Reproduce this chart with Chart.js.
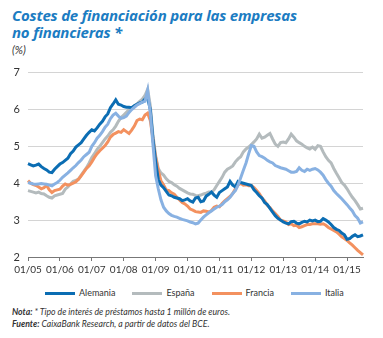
<!DOCTYPE html>
<html lang="es">
<head>
<meta charset="utf-8">
<script src="https://cdn.jsdelivr.net/npm/chart.js@4.4.0/dist/chart.umd.min.js"></script>
<style>
  html, body { margin: 0; padding: 0; background: #fff; }
  body { width: 383px; height: 338px; position: relative; overflow: hidden; font-family: Lato, 'Open Sans', sans-serif; }
  .titulo { position: absolute; left: 12px; top: 7px; color: #1b7cc2; font-family: 'Open Sans', Lato, sans-serif; font-weight: 700; font-style: italic; font-size: 15px; line-height: 17px; letter-spacing: -0.2px; }
  .unidad { position: absolute; left: 12px; top: 43px; font-style: italic; font-size: 11px; color: #333; }
  .grafico { position: absolute; left: 0; top: 58px; width: 383px; height: 218px; }
  .leyenda { position: absolute; left: 45px; top: 287px; display: flex; gap: 17px; font-size: 9px; color: #333; line-height: 12px; }
  .leyenda span { display: flex; align-items: center; gap: 4px; }
  .leyenda i { display: inline-block; width: 30px; height: 3px; }
  .notas { position: absolute; left: 12px; top: 306px; font-size: 8.7px; font-style: italic; color: #333; line-height: 12px; }
  .notas b { font-weight: 700; }
</style>
</head>
<body>
<div class="titulo">Costes de financiación para las empresas<br>no financieras *</div>
<div class="unidad">(%)</div>
<div class="grafico"><canvas id="graficoCostes"></canvas></div>
<div class="leyenda" id="leyenda"></div>
<div class="notas">
  <b>Nota:</b> * Tipo de interés  de préstamos hasta 1 millón de euros.<br>
  <b>Fuente:</b> CaixaBank Research, a partir de datos del BCE.
</div>

<script>
// meses de 01/05 a 07/15
const meses = [];
for (let a = 5; a <= 15; a++) {
    for (let m = 1; m <= 12; m++) {
        if (a === 15 && m > 7) break;
        meses.push(String(m).padStart(2, '0') + '/' + String(a).padStart(2, '0'));
    }
}

const alemania = [
    4.53, 4.50, 4.47, 4.49, 4.52, 4.45, 4.40, 4.36, 4.30, 4.29, 4.38, 4.45,
    4.52, 4.56, 4.62, 4.68, 4.80, 4.87, 4.98, 5.04, 5.10, 5.20, 5.30, 5.38,
    5.45, 5.42, 5.50, 5.60, 5.68, 5.80, 5.88, 6.05, 6.15, 6.26, 6.14, 6.12,
    6.08, 6.06, 6.06, 6.05, 6.10, 6.14, 6.18, 6.20, 6.28, 6.30, 6.00, 5.20,
    4.60, 4.10, 3.95, 3.88, 3.78, 3.68, 3.66, 3.62, 3.60, 3.58, 3.53, 3.55,
    3.58, 3.52, 3.49, 3.60, 3.62, 3.50, 3.52, 3.65, 3.70, 3.76, 3.68, 3.62,
    3.75, 3.80, 3.85, 3.90, 4.05, 3.95, 3.90, 4.05, 4.02, 4.00, 3.98, 3.96,
    3.94, 3.82, 3.75, 3.66, 3.60, 3.48, 3.42, 3.32, 3.22, 3.12, 3.05, 3.00,
    2.95, 2.92, 2.90, 2.96, 2.97, 2.92, 2.90, 2.94, 2.97, 2.95, 3.00, 2.98,
    3.00, 2.96, 2.97, 3.04, 3.00, 2.95, 2.88, 2.80, 2.75, 2.72, 2.65, 2.60,
    2.48, 2.50, 2.56, 2.60, 2.55, 2.57, 2.60
];

const espana = [
    3.80, 3.78, 3.76, 3.74, 3.76, 3.72, 3.71, 3.66, 3.62, 3.60, 3.66, 3.68,
    3.70, 3.72, 3.84, 3.90, 3.98, 4.05, 4.08, 4.11, 4.22, 4.32, 4.42, 4.55,
    4.70, 4.80, 4.92, 5.00, 5.10, 5.20, 5.28, 5.38, 5.45, 5.55, 5.68, 5.78,
    5.85, 5.92, 6.00, 6.05, 6.10, 6.15, 6.22, 6.28, 6.38, 6.55, 6.10, 5.30,
    4.75, 4.40, 4.28, 4.22, 4.12, 4.05, 4.02, 3.96, 3.92, 3.86, 3.82, 3.78,
    3.74, 3.71, 3.70, 3.67, 3.66, 3.68, 3.71, 3.73, 3.76, 3.76, 3.82, 3.94,
    4.05, 4.16, 4.30, 4.38, 4.42, 4.47, 4.58, 4.66, 4.72, 4.85, 4.93, 4.98,
    5.05, 5.12, 5.20, 5.33, 5.22, 5.25, 5.30, 5.35, 5.20, 5.06, 5.00, 5.10,
    5.12, 5.10, 5.20, 5.33, 5.25, 5.15, 5.10, 5.06, 5.00, 4.96, 4.93, 4.98,
    4.92, 5.02, 5.00, 4.85, 4.72, 4.62, 4.55, 4.40, 4.27, 4.15, 4.02, 3.95,
    3.85, 3.73, 3.62, 3.53, 3.42, 3.30, 3.32
];

const francia = [
    4.07, 4.00, 3.96, 3.94, 3.90, 3.85, 3.88, 3.94, 3.82, 3.75, 3.80, 3.82,
    3.84, 3.92, 3.98, 3.95, 3.97, 4.00, 4.04, 4.11, 4.20, 4.30, 4.40, 4.47,
    4.58, 4.70, 4.80, 4.88, 4.95, 5.02, 5.12, 5.25, 5.32, 5.36, 5.40, 5.38,
    5.45, 5.40, 5.35, 5.44, 5.55, 5.70, 5.74, 5.72, 5.85, 5.90, 5.70, 5.20,
    4.70, 4.35, 4.07, 3.95, 3.82, 3.80, 3.74, 3.70, 3.62, 3.55, 3.48, 3.44,
    3.38, 3.30, 3.27, 3.23, 3.22, 3.21, 3.25, 3.24, 3.22, 3.26, 3.35, 3.38,
    3.36, 3.45, 3.52, 3.58, 3.64, 3.72, 3.85, 3.95, 4.00, 3.95, 3.96, 3.93,
    3.94, 3.88, 3.80, 3.72, 3.60, 3.52, 3.40, 3.34, 3.25, 3.18, 3.10, 3.00,
    2.98, 2.95, 2.88, 2.90, 2.85, 2.86, 2.80, 2.82, 2.85, 2.88, 2.88, 2.90,
    2.90, 2.90, 2.89, 2.90, 2.86, 2.80, 2.76, 2.72, 2.68, 2.62, 2.55, 2.50,
    2.45, 2.38, 2.32, 2.25, 2.18, 2.12, 2.06
];

const italia = [
    4.02, 4.00, 3.98, 3.97, 3.98, 3.99, 3.98, 3.97, 3.95, 3.93, 3.98, 4.02,
    4.08, 4.16, 4.22, 4.28, 4.35, 4.42, 4.48, 4.56, 4.63, 4.72, 4.78, 4.84,
    5.00, 5.10, 5.22, 5.30, 5.40, 5.52, 5.60, 5.75, 5.85, 5.90, 5.82, 5.76,
    5.78, 5.82, 5.92, 6.00, 6.06, 6.12, 6.16, 6.20, 6.22, 6.52, 5.90, 5.05,
    4.20, 3.85, 3.55, 3.35, 3.25, 3.18, 3.13, 3.10, 3.08, 3.05, 3.02, 3.00,
    2.98, 2.95, 2.93, 2.90, 2.92, 3.00, 3.08, 3.14, 3.20, 3.25, 3.30, 3.35,
    3.38, 3.42, 3.50, 3.55, 3.62, 3.72, 3.80, 3.95, 4.15, 4.35, 4.55, 4.80,
    5.02, 5.00, 4.85, 4.75, 4.72, 4.68, 4.62, 4.58, 4.55, 4.48, 4.45, 4.42,
    4.40, 4.38, 4.34, 4.30, 4.30, 4.32, 4.42, 4.35, 4.32, 4.38, 4.35, 4.38,
    4.40, 4.36, 4.30, 4.22, 4.10, 4.00, 3.92, 3.80, 3.72, 3.65, 3.58, 3.50,
    3.42, 3.33, 3.25, 3.12, 3.05, 2.92, 2.95
];

const series = ['Alemania', 'España', 'Francia', 'Italia'];
const colores = ['#0b6db3', '#b4bbbd', '#f3915f', '#88b1e2'];
const valores = [alemania, espana, francia, italia];
const orden = [1, 3, 2, 0]; // Italia encima

const ticksY = [2, 3, 4, 5, 6, 7];

// leyenda en HTML
document.getElementById('leyenda').innerHTML = series
    .map((nombre, i) => `<span><i style="background:${colores[i]}"></i>${nombre}</span>`)
    .join('');

new Chart(document.getElementById('graficoCostes'), {
    type: 'line',
    data: {
        labels: meses,
        datasets: series.map((nombre, i) => ({
            label: nombre,
            data: valores[i],
            borderColor: colores[i],
            backgroundColor: colores[i],
            borderWidth: 3,
            pointRadius: 0,
            tension: 0,
            order: orden[i]
        }))
    },
    options: {
        responsive: true,
        maintainAspectRatio: false,
        animation: false,
        layout: { padding: { top: 12, right: 20, left: 0, bottom: 0 } },
        plugins: {
            tooltip: { enabled: false },
            legend: { display: false }
        },
        scales: {
            x: {
                type: 'category',
                offset: false,
                afterFit: s => { s.height = 19; },
                grid: {
                    drawOnChartArea: false,
                    tickLength: 4,
                    color: ctx => (ctx.index % 12 === 0 ? '#777' : 'rgba(0,0,0,0)')
                },
                border: { color: '#777', width: 1 },
                ticks: {
                    autoSkip: false,
                    maxRotation: 0,
                    padding: 3,
                    color: '#333',
                    font: { family: 'Lato', size: 10 },
                    callback: function (value, index) {
                        const l = this.getLabelForValue(value);
                        return l.startsWith('01/') ? l : '';
                    }
                }
            },
            y: {
                min: 2,
                max: 7,
                afterFit: s => { s.width = 28; },
                afterBuildTicks: s => { s.ticks = ticksY.map(v => ({ value: v })); },
                grid: { color: '#d4d4d4', drawTicks: false },
                border: { display: false },
                ticks: {
                    padding: 8,
                    color: '#333',
                    font: { family: 'Lato', size: 11 }
                }
            }
        }
    }
});
</script>
</body>
</html>
